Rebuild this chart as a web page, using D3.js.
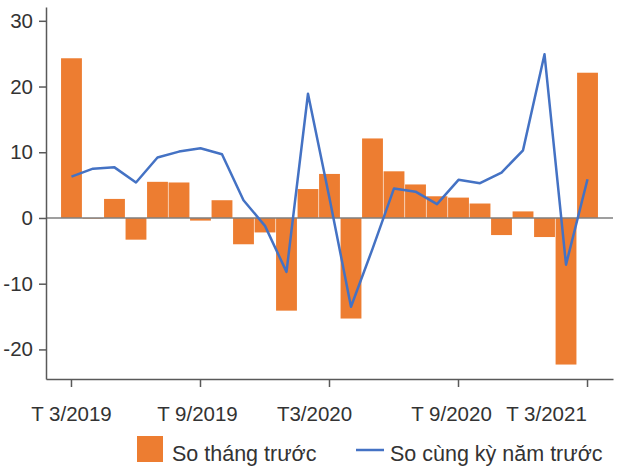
<!DOCTYPE html>
<html>
<head>
<meta charset="utf-8">
<script src="https://cdn.jsdelivr.net/npm/d3@7"></script>
<style>
  body { margin: 0; background: #fff; }
  svg { font-family: "Liberation Sans", Arial, sans-serif; }
  .axis text { fill: #333; font-size: 20.5px; }
  .axis path, .axis line { stroke: #595959; stroke-width: 1.5; }
  .legend text { fill: #333; font-size: 21.5px; }
</style>
</head>
<body>
<svg width="630" height="468"></svg>
<script>
const months = [
  "3/2019", "4/2019", "5/2019", "6/2019", "7/2019", "8/2019", "9/2019",
  "10/2019", "11/2019", "12/2019", "1/2020", "2/2020", "3/2020", "4/2020",
  "5/2020", "6/2020", "7/2020", "8/2020", "9/2020", "10/2020", "11/2020",
  "12/2020", "1/2021", "2/2021", "3/2021"
];

// so tháng trước (bars)
const momValues = [
  24.3, -0.1, 2.9, -3.3, 5.5, 5.4, -0.4, 2.7, -4.0, -2.2, -14.1, 4.4, 6.7,
  -15.3, 12.1, 7.1, 5.1, 3.3, 3.1, 2.2, -2.6, 1.0, -2.9, -22.3, 22.1
];

// so cùng kỳ năm trước (line)
const yoyValues = [
  6.3, 7.5, 7.7, 5.4, 9.2, 10.1, 10.6, 9.7, 2.7, -1.2, -8.2, 18.9, 3.0,
  -13.5, -4.7, 4.5, 4.0, 2.1, 5.8, 5.3, 6.9, 10.3, 24.9, -7.1, 5.9
];

const tickMonths = ["3/2019", "9/2019", "3/2020", "9/2020", "3/2021"];
const tickLabels = ["T 3/2019", "T 9/2019", "T3/2020", "T 9/2020", "T 3/2021"];
const yTicks = [-20, -10, 0, 10, 20, 30];

const seriesNames = ["So tháng trước", "So cùng kỳ năm trước"];
const orange = "#ED7D31";
const blue = "#4472C4";

// labels in the original are not all centred under their tick
const labelShift = [0, -3, -15, -7, -41];

const svg = d3.select("svg");

const x = d3
  .scaleBand()
  .domain(months)
  .range([46, 613])
  .paddingInner(0.03)
  .paddingOuter(0.7);

const y = d3
  .scaleLinear()
  .domain([-24.5, 32.1])
  .range([379, 7]);

// bars
svg
  .append("g")
  .selectAll("rect")
  .data(momValues)
  .enter()
  .append("rect")
  .attr("x", (d, i) => x(months[i]))
  .attr("y", d => y(Math.max(0, d)))
  .attr("width", x.bandwidth())
  .attr("height", d => Math.abs(y(d) - y(0)))
  .attr("fill", orange);

// zero line
svg
  .append("line")
  .attr("x1", 46)
  .attr("x2", 613)
  .attr("y1", y(0))
  .attr("y2", y(0))
  .attr("stroke", "#7f7f7f")
  .attr("stroke-width", 1.5);

// yoy line
const line = d3
  .line()
  .x((d, i) => x(months[i]) + x.bandwidth() / 2)
  .y(d => y(d));

svg
  .append("path")
  .datum(yoyValues)
  .attr("d", line)
  .attr("fill", "none")
  .attr("stroke", blue)
  .attr("stroke-width", 2.5)
  .attr("stroke-linejoin", "round");

// axes
const xAxis = svg
  .append("g")
  .attr("class", "axis")
  .attr("transform", "translate(0, 379)")
  .call(
    d3
      .axisBottom(x)
      .tickValues(tickMonths)
      .tickFormat(m => tickLabels[tickMonths.indexOf(m)])
      .tickSize(8)
      .tickSizeOuter(0)
      .tickPadding(19)
  );
xAxis.selectAll(".tick text").attr("dx", (d, i) => labelShift[i]);

svg
  .append("g")
  .attr("class", "axis")
  .attr("transform", "translate(46, 0)")
  .call(
    d3
      .axisLeft(y)
      .tickValues(yTicks)
      .tickFormat(d => String(d))
      .tickSize(7)
      .tickSizeOuter(0)
      .tickPadding(6)
  );

// legend
const legend = svg.append("g").attr("class", "legend");
legend
  .append("rect")
  .attr("x", 137)
  .attr("y", 436)
  .attr("width", 26)
  .attr("height", 26)
  .attr("fill", orange);
legend
  .append("text")
  .attr("x", 172)
  .attr("y", 461)
  .text(seriesNames[0]);
legend
  .append("line")
  .attr("x1", 356)
  .attr("x2", 384)
  .attr("y1", 450)
  .attr("y2", 450)
  .attr("stroke", blue)
  .attr("stroke-width", 2.5);
legend
  .append("text")
  .attr("x", 390)
  .attr("y", 461)
  .text(seriesNames[1]);
</script>
</body>
</html>
